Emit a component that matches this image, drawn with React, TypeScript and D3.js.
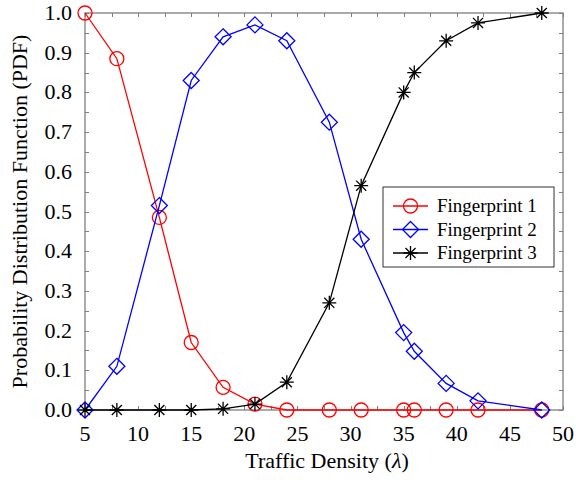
import React, { useEffect, useRef } from 'react'
import * as d3 from 'd3'

const density = [5, 8, 12, 15, 18, 21, 24, 28, 31, 35, 36, 39, 42, 48]
const fingerprint1 = [1.0, 0.885, 0.485, 0.17, 0.057, 0.015, 0, 0, 0, 0, 0, 0, 0, 0]
const fingerprint2 = [0, 0.11, 0.515, 0.83, 0.94, 0.97, 0.93, 0.725, 0.43, 0.195, 0.148, 0.067, 0.023, 0]
const fingerprint3 = [0, 0, 0, 0, 0.003, 0.015, 0.07, 0.27, 0.565, 0.8, 0.85, 0.93, 0.975, 1.0]
const seriesNames = ['Fingerprint 1', 'Fingerprint 2', 'Fingerprint 3']
const xTicks = [5, 10, 15, 20, 25, 30, 35, 40, 45, 50]
const yTicks = [0, 0.1, 0.2, 0.3, 0.4, 0.5, 0.6, 0.7, 0.8, 0.9, 1.0]

const W = 576
const H = 480
const margin = { top: 13, right: 13, bottom: 70, left: 85 }
const font = 'Liberation Serif'

function drawMarker(g: any, kind: string, x: number, y: number, color: string) {
  if (kind === 'circle') {
    g.append('circle').attr('cx', x).attr('cy', y).attr('r', 7)
      .attr('fill', 'none').attr('stroke', color).attr('stroke-width', 1.3)
  } else if (kind === 'diamond') {
    const s = 8
    g.append('path').attr('d', `M${x},${y - s}L${x + s},${y}L${x},${y + s}L${x - s},${y}Z`)
      .attr('fill', 'none').attr('stroke', color).attr('stroke-width', 1.3)
  } else {
    const s = 7
    const d = s * 0.72
    g.append('path')
      .attr('d', `M${x},${y - s}L${x},${y + s}M${x - s},${y}L${x + s},${y}M${x - d},${y - d}L${x + d},${y + d}M${x - d},${y + d}L${x + d},${y - d}`)
      .attr('fill', 'none').attr('stroke', color).attr('stroke-width', 1.3)
  }
}

export default function App() {
  const ref = useRef<SVGSVGElement>(null)

  useEffect(() => {
    const svg = d3.select(ref.current)
    svg.selectAll('*').remove()

    const x = d3.scaleLinear().domain([5, 50]).range([margin.left, W - margin.right])
    const y = d3.scaleLinear().domain([0, 1]).range([H - margin.bottom, margin.top])
    const x0 = margin.left, x1 = W - margin.right
    const y0 = H - margin.bottom, y1 = margin.top

    const axisColor = '#7f7f7f'
    const ticks = svg.append('g').attr('stroke', axisColor).attr('stroke-width', 1)

    // minor + major ticks, inside, on all four sides
    d3.range(5, 50.01, 2.5).forEach(v => {
      const px = Math.round(x(v)) + 0.5
      ticks.append('line').attr('x1', px).attr('x2', px).attr('y1', y0).attr('y2', y0 - 4)
      ticks.append('line').attr('x1', px).attr('x2', px).attr('y1', y1).attr('y2', y1 + 4)
    })
    d3.range(0, 1.001, 0.05).forEach(v => {
      const py = Math.round(y(v)) + 0.5
      ticks.append('line').attr('x1', x0).attr('x2', x0 + 4).attr('y1', py).attr('y2', py)
      ticks.append('line').attr('x1', x1).attr('x2', x1 - 4).attr('y1', py).attr('y2', py)
    })

    svg.append('rect').attr('x', x0).attr('y', y1).attr('width', x1 - x0).attr('height', y0 - y1)
      .attr('fill', 'none').attr('stroke', axisColor).attr('stroke-width', 1.3)

    svg.append('g').selectAll('text').data(xTicks).join('text')
      .attr('x', d => x(d)).attr('y', y0 + 31)
      .attr('text-anchor', 'middle').style('font-family', font).style('font-size', '22px')
      .text(d => d)

    svg.append('g').selectAll('text').data(yTicks).join('text')
      .attr('x', x0 - 13).attr('y', d => y(d) + 7)
      .attr('text-anchor', 'end').style('font-family', font).style('font-size', '22px')
      .text(d => d.toFixed(1))

    const xt = svg.append('text').attr('x', (x0 + x1) / 2 + 3).attr('y', H - 12)
      .attr('text-anchor', 'middle').style('font-family', font).style('font-size', '22px')
    xt.append('tspan').text('Traffic Density (')
    xt.append('tspan').style('font-style', 'italic').text('λ')
    xt.append('tspan').text(')')

    svg.append('text')
      .attr('transform', `translate(27, ${(y0 + y1) / 2}) rotate(-90)`)
      .attr('text-anchor', 'middle').style('font-family', font).style('font-size', '22px')
      .text('Probability Distribution Function (PDF)')

    const series = [
      { values: fingerprint1, color: '#ff0000', marker: 'circle' },
      { values: fingerprint2, color: '#0000ff', marker: 'diamond' },
      { values: fingerprint3, color: '#000000', marker: 'star' },
    ]

    const line = d3.line<number>().x((_, i) => x(density[i])).y(d => y(d))

    series.forEach(s => {
      const g = svg.append('g')
      g.append('path').attr('d', line(s.values)).attr('fill', 'none')
        .attr('stroke', s.color).attr('stroke-width', 1.3)
      s.values.forEach((v, i) => drawMarker(g, s.marker, x(density[i]), y(v), s.color))
    })

    // legend
    const lg = svg.append('g').attr('transform', 'translate(383, 187)')
    lg.append('rect').attr('width', 171).attr('height', 80)
      .attr('fill', '#fff').attr('stroke', '#333').attr('stroke-width', 1)
    series.forEach((s, i) => {
      const cy = 19 + i * 23.5
      lg.append('line').attr('x1', 10).attr('x2', 45).attr('y1', cy).attr('y2', cy)
        .attr('stroke', s.color).attr('stroke-width', 1.3)
      drawMarker(lg, s.marker, 27.5, cy, s.color)
      lg.append('text').attr('x', 54).attr('y', cy + 6)
        .style('font-family', font).style('font-size', '19px').text(seriesNames[i])
    })
  }, [])

  return (
    <div style={{ position: 'absolute', left: 0, top: 0 }}>
      <svg ref={ref} width={W} height={H} style={{ display: 'block', background: '#fff' }} />
    </div>
  )
}
